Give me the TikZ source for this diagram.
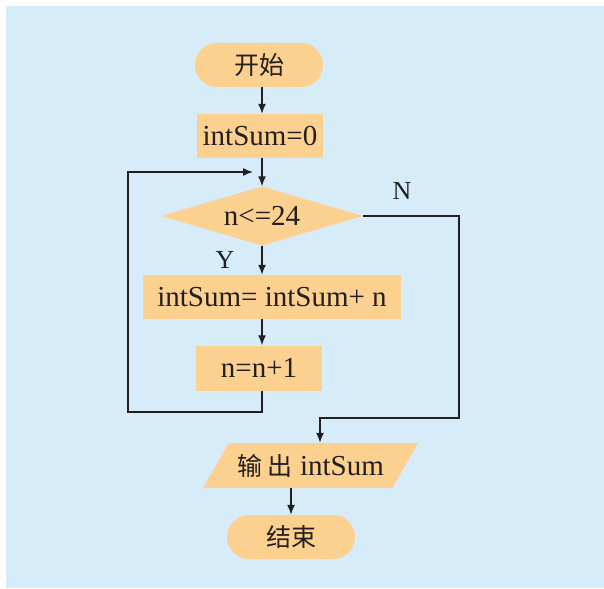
\documentclass[tikz,border=0pt]{standalone}
\usepackage{fontspec}
\setmainfont{Liberation Serif}
\newfontfamily\cjk{Noto Sans CJK SC}
\usetikzlibrary{shapes.geometric,shapes.misc,arrows.meta}
\definecolor{bgblue}{RGB}{214,236,249}
\definecolor{boxor}{RGB}{252,208,142}
\definecolor{lineblk}{RGB}{35,31,32}
\begin{document}
\begin{tikzpicture}[x=1pt,y=-1pt,
  every node/.style={font=\fontsize{29}{32}\selectfont, text=lineblk},
  term/.style={rounded rectangle, fill=boxor, minimum width=128pt, minimum height=44pt, inner sep=0pt, font=\cjk\fontsize{25}{28}\selectfont},
  proc/.style={rectangle, fill=boxor, minimum height=44pt, inner sep=0pt},
  dec/.style={diamond, fill=boxor, aspect=3.42, minimum width=202pt, minimum height=59pt, inner sep=0pt},
  io/.style={trapezium, trapezium left angle=45, trapezium right angle=135, trapezium stretches=true, fill=boxor, minimum width=215pt, minimum height=45pt, inner sep=0pt},
  conn/.style={line width=1.5pt, draw=lineblk},
  arr/.style={conn, -{Latex[length=10pt,width=8pt]}},
  lbl/.style={font=\fontsize{26}{28}\selectfont}
]
\useasboundingbox (0,0) rectangle (604,588);
\fill[bgblue] (6,6) rectangle (604,588);

\node[term] (start) at (259,65) {开始};
\node[proc, minimum width=126pt] (init) at (260,136) {intSum=0};
\node[dec] (cond) at (262,216) {n<=24};
\node[proc, minimum width=258pt] (body) at (272,297) {intSum= intSum+ n};
\node[proc, minimum width=126pt, minimum height=45pt] (incr) at (259,368) {n=n+1};
\node[io] (out) at (310.5,465.5) {{\cjk\fontsize{25}{28}\selectfont 输 出} intSum};
\node[term] (end) at (291,537) {结束};

\node[lbl] (ylab) at (225,260) {Y};
\node[lbl] (nlab) at (402,191) {N};

\coordinate (lb) at (128,412);
\coordinate (lt) at (128,172);
\coordinate (lin) at (253,172);
\coordinate (nr) at (459,216);
\coordinate (nb) at (459,418);
\coordinate (nin) at (320,418);

\draw[arr] (start.south -| cond.north) -- (init.north -| cond.north);
\draw[arr] (init.south -| cond.north) -- (cond.north);
\draw[arr] (cond.south) -- (body.north -| cond.south);
\draw[arr] (body.south -| cond.south) -- (incr.north -| cond.south);
\draw[arr] (incr.south -| cond.south) |- (lb) -- (lt) -- (lin);
\draw[arr] (cond.east) -- (nr) -- (nb) -- (nin) -- (out.north -| nin);
\draw[arr] (out.south -| end.north) -- (end.north);
\end{tikzpicture}
\end{document}
